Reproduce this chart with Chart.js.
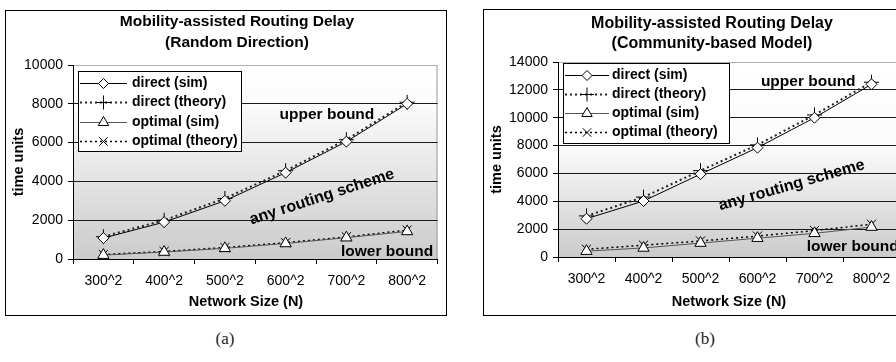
<!DOCTYPE html>
<html>
<head>
<title>Mobility-assisted Routing Delay</title>
<script src="https://cdn.jsdelivr.net/npm/chart.js"></script>
<style>
  body {
    margin: 0;
    width: 896px;
    height: 362px;
    overflow: hidden;
    background: #fff;
    position: relative;
  }
  .panel {
    position: absolute;
    border: 1px solid #000;
    background: #fff;
  }
  #panelA { left: 5px; top: 10px; width: 440px; height: 304px; }
  #panelB { left: 483px; top: 9px; width: 428px; height: 305px; }
  .caption {
    position: absolute;
    top: 329px;
    width: 60px;
    text-align: center;
    font-family: "Liberation Serif", serif;
    font-size: 17px;
    color: #222;
  }
</style>
</head>
<body>

<div class="panel" id="panelA"><canvas id="chartA" width="440" height="304"></canvas></div>
<div class="panel" id="panelB"><canvas id="chartB" width="428" height="305"></canvas></div>
<div class="caption" style="left:195px">(a)</div>
<div class="caption" style="left:675px">(b)</div>

<script>
// network sizes on the x axis
const sizes = ['300^2', '400^2', '500^2', '600^2', '700^2', '800^2'];
const seriesNames = ['direct (sim)', 'direct (theory)', 'optimal (sim)', 'optimal (theory)'];

// random direction mobility
const rdDirectSim = [1080, 1900, 3000, 4450, 6050, 8000];
const rdDirectTheory = [1150, 2000, 3120, 4550, 6150, 8080];
const rdOptimalSim = [200, 360, 550, 800, 1100, 1420];
const rdOptimalTheory = [230, 390, 590, 840, 1140, 1490];

// community-based mobility
const cmDirectSim = [2750, 4020, 5950, 7850, 10000, 12400];
const cmDirectTheory = [2950, 4300, 6200, 8050, 10200, 12550];
const cmOptimalSim = [420, 650, 1000, 1350, 1700, 2150];
const cmOptimalTheory = [550, 850, 1150, 1500, 1900, 2350];

const FONT = '"Liberation Sans", Arial, sans-serif';

const lineStyles = [
  { borderColor: '#000', borderWidth: 1, pointStyle: 'rectRot', pointRadius: 5.5 },
  { borderColor: '#222', borderWidth: 2, borderDash: [2, 3], pointStyle: 'cross', pointRadius: 7.5 },
  { borderColor: '#555', borderWidth: 1, pointStyle: 'triangle', pointRadius: 6.5 },
  { borderColor: '#000', borderWidth: 1.5, borderDash: [2, 3], pointStyle: 'crossRot', pointRadius: 6.5 }
];

function buildDatasets(values) {
  return values.map((v, i) => Object.assign({
    label: seriesNames[i],
    data: v,
    tension: 0,
    pointBackgroundColor: '#fff',
    pointBorderColor: '#000',
    pointBorderWidth: 1
  }, lineStyles[i]));
}

// plot area fill: white at the top, shading to grey toward zero
const plotBg = {
  id: 'plotBg',
  beforeDraw(chart, args, o) {
    const { ctx, chartArea: a, scales: { y } } = chart;
    const f = (y.getPixelForValue(o.whiteAbove) - a.top) / a.height;
    const g = ctx.createLinearGradient(0, a.top, 0, a.bottom);
    g.addColorStop(0, '#ffffff');
    g.addColorStop(f, '#fbfbfb');
    g.addColorStop(1, '#cbcbcb');
    ctx.save();
    ctx.fillStyle = g;
    ctx.fillRect(a.left, a.top, a.width, a.height);
    ctx.strokeStyle = '#9a9a9a';
    ctx.lineWidth = 1;
    ctx.strokeRect(a.left + 0.5, a.top + 0.5, a.width - 1, a.height);
    ctx.restore();
  }
};

// chart heading and x axis caption, centred where the chart puts them
const headings = {
  id: 'headings',
  afterDraw(chart, args, o) {
    const ctx = chart.ctx;
    ctx.save();
    ctx.fillStyle = '#000';
    ctx.textAlign = 'center';
    ctx.textBaseline = 'middle';
    ctx.font = 'bold ' + o.size + 'px ' + FONT;
    o.lines.forEach((t, i) => ctx.fillText(t, o.cx, o.y + i * o.gap));
    ctx.font = 'bold 14.5px ' + FONT;
    ctx.fillText(o.xTitle, o.xTitleX, chart.height - o.xTitleBottom);
    ctx.restore();
  }
};

// boxed legend with line sample and marker
const boxLegend = {
  id: 'boxLegend',
  afterDraw(chart, args, o) {
    const { ctx, chartArea: a } = chart;
    const x = a.left + o.dx, y = a.top + o.dy;
    const sets = chart.data.datasets;
    ctx.save();
    ctx.fillStyle = '#fff';
    ctx.fillRect(x, y, o.width, o.height);
    ctx.strokeStyle = '#000';
    ctx.lineWidth = 1;
    ctx.strokeRect(x + 0.5, y + 0.5, o.width, o.height);
    sets.forEach((ds, i) => {
      const cy = Math.round(y + o.first + i * o.row) + 0.5;
      ctx.beginPath();
      ctx.setLineDash(ds.borderDash || []);
      ctx.strokeStyle = ds.borderColor;
      ctx.lineWidth = ds.borderWidth;
      ctx.moveTo(x + o.s0, cy);
      ctx.lineTo(x + o.s1, cy);
      ctx.stroke();
      ctx.setLineDash([]);
      ctx.fillStyle = ds.pointBackgroundColor;
      ctx.strokeStyle = ds.pointBorderColor;
      ctx.lineWidth = 1;
      Chart.helpers.drawPoint(ctx, { pointStyle: ds.pointStyle, radius: ds.pointRadius - 0.5, rotation: 0, borderWidth: 1 },
        x + (o.s0 + o.s1) / 2, cy);
      ctx.fillStyle = '#000';
      ctx.font = 'bold 14px ' + FONT;
      ctx.textAlign = 'left';
      ctx.textBaseline = 'middle';
      ctx.fillText(ds.label, x + o.tx, cy);
    });
    ctx.restore();
  }
};

// region notes placed in data space
const notes = {
  id: 'notes',
  afterDatasetsDraw(chart, args, o) {
    const { ctx, scales: { x, y } } = chart;
    ctx.save();
    ctx.fillStyle = '#000';
    ctx.textAlign = 'center';
    ctx.textBaseline = 'middle';
    o.items.forEach(n => {
      ctx.save();
      ctx.translate(x.getPixelForValue(n.at), y.getPixelForValue(n.v));
      ctx.rotate(n.angle * Math.PI / 180);
      ctx.font = 'bold ' + n.size + 'px ' + FONT;
      ctx.fillText(n.text, 0, 0);
      ctx.restore();
    });
    ctx.restore();
  }
};

function makeChart(id, c) {
  return new Chart(document.getElementById(id), {
    type: 'line',
    data: { labels: sizes, datasets: buildDatasets(c.values) },
    plugins: [plotBg, headings, boxLegend, notes],
    options: {
      responsive: false,
      animation: false,
      events: [],
      layout: { padding: { top: c.top, right: c.right, left: 0, bottom: 0 } },
      plugins: {
        legend: { display: false },
        tooltip: { enabled: false },
        plotBg: { whiteAbove: 8000 },
        headings: c.heading,
        boxLegend: c.legend,
        notes: { items: c.notes }
      },
      scales: {
        x: {
          offset: true,
          afterFit: s => { s.height = c.xHeight; },
          grid: { offset: true, drawOnChartArea: false, drawTicks: true, tickLength: 5, color: '#000' },
          border: { color: '#000' },
          ticks: { color: '#000', padding: 9, maxRotation: 0, autoSkip: false, font: { family: FONT, size: 14 } }
        },
        y: {
          min: 0,
          max: c.max,
          afterFit: s => { s.width = c.yWidth; },
          grid: {
            color: g => g.tick && g.tick.value === c.max ? '#b0b0b0' : '#1a1a1a',
            tickColor: '#000',
            tickLength: 5,
            drawTicks: true
          },
          border: { color: '#000' },
          ticks: { stepSize: 2000, color: '#000', padding: 5, font: { family: FONT, size: 14 },
            callback: v => String(v) },
          title: { display: true, text: 'time units', color: '#000', padding: { top: 4, bottom: 0 },
            font: { family: FONT, size: 14.5, weight: 'bold' } }
        }
      }
    }
  });
}

makeChart('chartA', {
  values: [rdDirectSim, rdDirectTheory, rdOptimalSim, rdOptimalTheory],
  max: 10000,
  top: 54, right: 8, yWidth: 67, xHeight: 56,
  heading: { lines: ['Mobility-assisted Routing Delay', '(Random Direction)'], size: 15.5, cx: 231, y: 11, gap: 21,
    xTitle: 'Network Size (N)', xTitleX: 240, xTitleBottom: 13 },
  legend: { dx: 5, dy: 6, width: 163, height: 80, first: 12, row: 19.3, s0: 2, s1: 49, tx: 54 },
  notes: [
    { text: 'upper bound', at: 3.68, v: 7450, angle: 0, size: 15.5 },
    { text: 'any routing scheme', at: 3.6, v: 3200, angle: -18, size: 16 },
    { text: 'lower bound', at: 4.67, v: 400, angle: 0, size: 15.5 }
  ]
});

makeChart('chartB', {
  values: [cmDirectSim, cmDirectTheory, cmOptimalSim, cmOptimalTheory],
  max: 14000,
  top: 52, right: 12, yWidth: 74, xHeight: 58,
  heading: { lines: ['Mobility-assisted Routing Delay', '(Community-based Model)'], size: 16, cx: 228, y: 14, gap: 20,
    xTitle: 'Network Size (N)', xTitleX: 245, xTitleBottom: 13 },
  legend: { dx: 5, dy: 1, width: 166, height: 80, first: 12, row: 19, s0: 2, s1: 46, tx: 49 },
  notes: [
    { text: 'upper bound', at: 3.89, v: 12560, angle: 0, size: 15.5 },
    { text: 'any routing scheme', at: 3.6, v: 5150, angle: -16, size: 16 },
    { text: 'lower bound', at: 4.67, v: 720, angle: 0, size: 15.5 }
  ]
});
</script>
</body>
</html>
